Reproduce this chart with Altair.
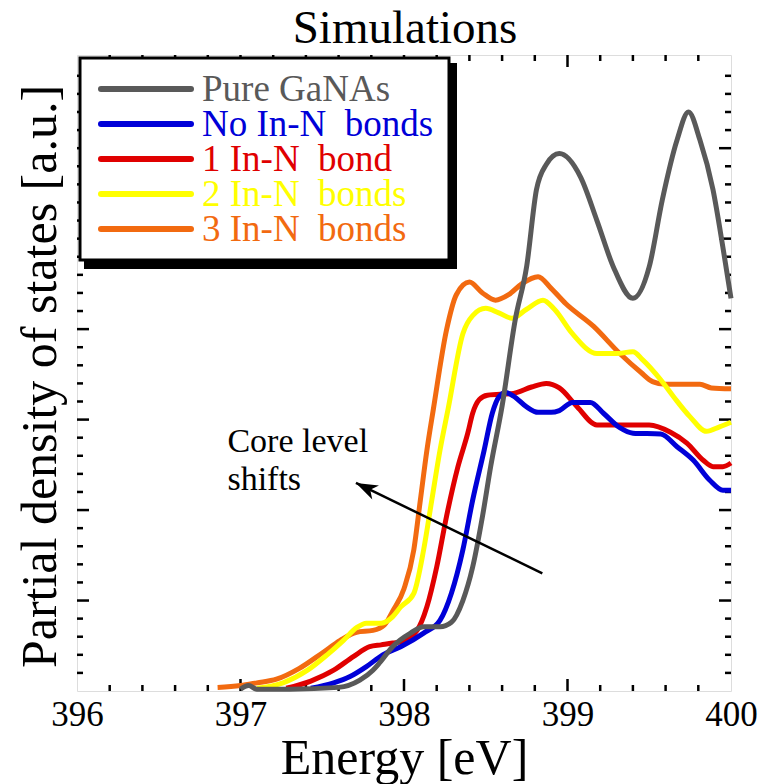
import math
import altair as alt
import pandas as pd

# ---------------- data ----------------
gray_x = [397.00, 397.05, 397.10, 397.30, 397.60, 397.73, 397.81, 397.85, 397.93, 398.04, 398.12, 398.22,
          398.29, 398.36, 398.42, 398.48, 398.53, 398.60, 398.68, 398.75, 398.81, 398.87, 398.95, 399.08,
          399.18, 399.28, 399.40, 399.50, 399.58, 399.67, 399.74, 399.81, 399.89, 399.95, 400.00]
gray_y = [0.02, 0.06, 0.02, 0.02, 0.04, 0.12, 0.23, 0.31, 0.49, 0.64, 0.71, 0.71,
          0.76, 1.00, 1.37, 1.93, 2.48, 3.15, 4.10, 4.69, 5.54, 5.82, 5.94, 5.68,
          5.20, 4.69, 4.34, 4.69, 5.43, 6.09, 6.40, 6.09, 5.54, 4.91, 4.34]

blue_x = [397.43, 397.57, 397.67, 397.77, 397.87, 397.98, 398.12, 398.22, 398.29, 398.36, 398.42, 398.49,
          398.54, 398.58, 398.62, 398.67, 398.75, 398.82, 398.90, 398.95, 399.03, 399.14, 399.22, 399.32,
          399.40, 399.57, 399.67, 399.77, 399.87, 399.95, 400.00]
blue_y = [0.03, 0.09, 0.16, 0.27, 0.40, 0.49, 0.64, 0.78, 1.08, 1.56, 2.11, 2.66,
          3.07, 3.25, 3.30, 3.26, 3.14, 3.08, 3.08, 3.10, 3.19, 3.19, 3.07, 2.91,
          2.85, 2.84, 2.70, 2.55, 2.33, 2.22, 2.22]

red_x = [397.28, 397.43, 397.57, 397.69, 397.79, 397.86, 397.93, 397.98, 398.08, 398.14, 398.20, 398.26,
         398.33, 398.39, 398.42, 398.46, 398.51, 398.67, 398.78, 398.87, 398.95, 399.06, 399.18, 399.50,
         399.63, 399.73, 399.83, 399.89, 399.95, 400.00]
red_y = [0.03, 0.11, 0.23, 0.38, 0.49, 0.51, 0.53, 0.54, 0.67, 0.93, 1.37, 1.93,
         2.48, 2.85, 3.07, 3.22, 3.27, 3.29, 3.36, 3.40, 3.35, 3.14, 2.94, 2.94,
         2.86, 2.74, 2.55, 2.48, 2.48, 2.52]

yellow_x = [397.10, 397.26, 397.41, 397.53, 397.63, 397.71, 397.77, 397.86, 397.93, 397.98, 398.06, 398.12,
            398.17, 398.22, 398.27, 398.36, 398.42, 398.50, 398.58, 398.66, 398.75, 398.85, 398.92, 399.03,
            399.18, 399.30, 399.40, 399.46, 399.57, 399.65, 399.75, 399.85, 399.93, 400.00]
yellow_y = [0.03, 0.09, 0.23, 0.40, 0.56, 0.70, 0.75, 0.75, 0.82, 0.93, 1.08, 1.56,
            2.11, 2.66, 3.12, 3.95, 4.15, 4.23, 4.18, 4.12, 4.22, 4.32, 4.22, 3.95,
            3.73, 3.73, 3.75, 3.66, 3.44, 3.25, 3.03, 2.87, 2.92, 2.97]

orange_x = [396.86, 397.00, 397.10, 397.22, 397.36, 397.50, 397.61, 397.71, 397.81, 397.88, 397.93, 398.00,
            398.06, 398.10, 398.14, 398.18, 398.26, 398.32, 398.40, 398.48, 398.56, 398.64, 398.72, 398.82,
            398.90, 398.99, 399.16, 399.32, 399.45, 399.52, 399.60, 399.81, 399.88, 400.00]
orange_y = [0.04, 0.06, 0.09, 0.13, 0.25, 0.42, 0.56, 0.65, 0.67, 0.73, 0.88, 1.13,
            1.56, 2.11, 2.66, 3.12, 3.99, 4.38, 4.52, 4.40, 4.32, 4.38, 4.50, 4.58,
            4.45, 4.28, 4.03, 3.73, 3.52, 3.42, 3.39, 3.39, 3.35, 3.34]

series_labels = ["Pure GaNAs", "No In-N\u00a0 bonds", "1 In-N\u00a0 bond",
                 "2 In-N\u00a0 bonds", "3 In-N\u00a0 bonds"]
series_colors = ["#595959", "#0000d8", "#e00000", "#ffff00", "#f26a10"]
series_data = [(gray_x, gray_y), (blue_x, blue_y), (red_x, red_y), (yellow_x, yellow_y), (orange_x, orange_y)]

x_tick_labels = [396, 397, 398, 399, 400]

ann_x = [396.92, 396.92]
ann_y = [2.64, 2.22]
ann_text = ["Core level", "shifts"]

arrow_x = [398.846, 397.706]   # tail, tip
arrow_y = [1.30, 2.30]

chart_title = "Simulations"

# ---------------- layout ----------------
W, H = 654, 636
XDOM = [396, 400]
YDOM = [0, 7.03]
FONT = "Liberation Serif, Times New Roman, serif"

xscale = alt.Scale(domain=XDOM, nice=False, zero=False)
yscale = alt.Scale(domain=YDOM, nice=False, zero=False)

x_axis = alt.Axis(values=x_tick_labels, format="d", ticks=False, domain=False, grid=False,
                  labelFont=FONT, labelFontSize=35, labelColor="black", labelPadding=6,
                  labelFlush=False, title="Energy [eV]", titleFont=FONT, titleFontSize=50,
                  titleFontWeight="normal", titleColor="black", titleY=82,
                  titleBaseline="alphabetic")
y_axis = alt.Axis(labels=False, ticks=False, domain=False, grid=False,
                  title="Partial density of states [a.u.]", titleFont=FONT, titleFontSize=50,
                  titleFontWeight="normal", titleColor="black", titleAngle=270,
                  titleX=-22, titleY=321, titleBaseline="alphabetic", titleAlign="center")

layers = []

# tick marks (inside)
xminor = [round(396 + 0.2 * i, 1) for i in range(1, 20) if i % 5 != 0]
xmajor = [397, 398, 399]
yminor = [round(0.2 * i, 1) for i in range(1, 35) if i % 5 != 0]
ymajor = [1, 2, 3, 4, 5, 6]

for vals, ln in [(xminor, 6), (xmajor, 12)]:
    d = pd.DataFrame({"v": vals})
    layers.append(alt.Chart(d).mark_rule(color="black", strokeWidth=2.5).encode(
        x=alt.X("v:Q", scale=xscale, axis=x_axis), y=alt.value(H), y2=alt.value(H - ln)))
    layers.append(alt.Chart(d).mark_rule(color="black", strokeWidth=2.5).encode(
        x=alt.X("v:Q", scale=xscale, axis=x_axis), y=alt.value(0), y2=alt.value(ln)))
for vals, ln in [(yminor, 6), (ymajor, 12)]:
    d = pd.DataFrame({"v": vals})
    layers.append(alt.Chart(d).mark_rule(color="black", strokeWidth=2.5).encode(
        y=alt.Y("v:Q", scale=yscale, axis=y_axis), x=alt.value(0), x2=alt.value(ln)))
    layers.append(alt.Chart(d).mark_rule(color="black", strokeWidth=2.5).encode(
        y=alt.Y("v:Q", scale=yscale, axis=y_axis), x=alt.value(W), x2=alt.value(W - ln)))

# curves: draw orange first ... gray last
for (xs, ys), col in reversed(list(zip(series_data, series_colors))):
    d = pd.DataFrame({"x": xs, "y": ys})
    layers.append(alt.Chart(d).mark_line(color=col, strokeWidth=5, interpolate="monotone").encode(
        x=alt.X("x:Q", scale=xscale, axis=x_axis),
        y=alt.Y("y:Q", scale=yscale, axis=y_axis)))

# annotation
ad = pd.DataFrame({"x": ann_x, "y": ann_y, "t": ann_text})
layers.append(alt.Chart(ad).mark_text(font=FONT, fontSize=34, align="left", baseline="alphabetic",
                                      color="black").encode(
    x=alt.X("x:Q", scale=xscale, axis=x_axis), y=alt.Y("y:Q", scale=yscale, axis=y_axis), text="t:N"))

arr = pd.DataFrame({"x": arrow_x, "y": arrow_y, "o": [0, 1]})
layers.append(alt.Chart(arr).mark_line(color="black", strokeWidth=2.5).encode(
    x=alt.X("x:Q", scale=xscale, axis=x_axis), y=alt.Y("y:Q", scale=yscale, axis=y_axis), order="o:Q"))

sx = W / (XDOM[1] - XDOM[0])
sy = H / (YDOM[1] - YDOM[0])
dxp = (arrow_x[1] - arrow_x[0]) * sx
dyp = -(arrow_y[1] - arrow_y[0]) * sy
angle = (math.degrees(math.atan2(dxp, -dyp)) + 360) % 360
tip = pd.DataFrame({"x": [arrow_x[1]], "y": [arrow_y[1]]})
layers.append(alt.Chart(tip).mark_point(shape="M0,0 L0.7,2 L0,1.45 L-0.7,2 Z", filled=True,
                                        size=480, angle=angle, color="black", opacity=1,
                                        strokeWidth=0).encode(
    x=alt.X("x:Q", scale=xscale, axis=x_axis), y=alt.Y("y:Q", scale=yscale, axis=y_axis)))

# legend box with shadow
one = pd.DataFrame({"a": [0]})
layers.append(alt.Chart(one).mark_rect(color="black").encode(
    x=alt.value(7), x2=alt.value(380), y=alt.value(8), y2=alt.value(214)))
layers.append(alt.Chart(one).mark_rect(fill="white", stroke="black", strokeWidth=3).encode(
    x=alt.value(3), x2=alt.value(372), y=alt.value(3), y2=alt.value(205)))
for i, (lab, col) in enumerate(zip(series_labels, series_colors)):
    ry = 34 + 35 * i
    layers.append(alt.Chart(one).mark_rule(color=col, strokeWidth=6, strokeCap="round").encode(
        x=alt.value(24), x2=alt.value(114), y=alt.value(ry)))
    layers.append(alt.Chart(one).mark_text(text=lab, font=FONT, fontSize=37, align="left",
                                           baseline="alphabetic", color=col).encode(
        x=alt.value(125), y=alt.value(ry + 12)))

# chart title as a text mark above the plot
layers.append(alt.Chart(one).mark_text(text=chart_title, font=FONT, fontSize=47, align="center",
                                       baseline="alphabetic", color="black").encode(
    x=alt.value(W / 2 + 1), y=alt.value(-12)))

chart = alt.layer(*layers).properties(
    width=W, height=H,
    autosize=alt.AutoSizeParams(type="none"),
    padding={"left": 77, "top": 55, "right": 35, "bottom": 93},
).configure_view(stroke="black", strokeWidth=3).configure(background="white")

chart.save("out.html", embed_options={"renderer": "svg", "actions": False})
